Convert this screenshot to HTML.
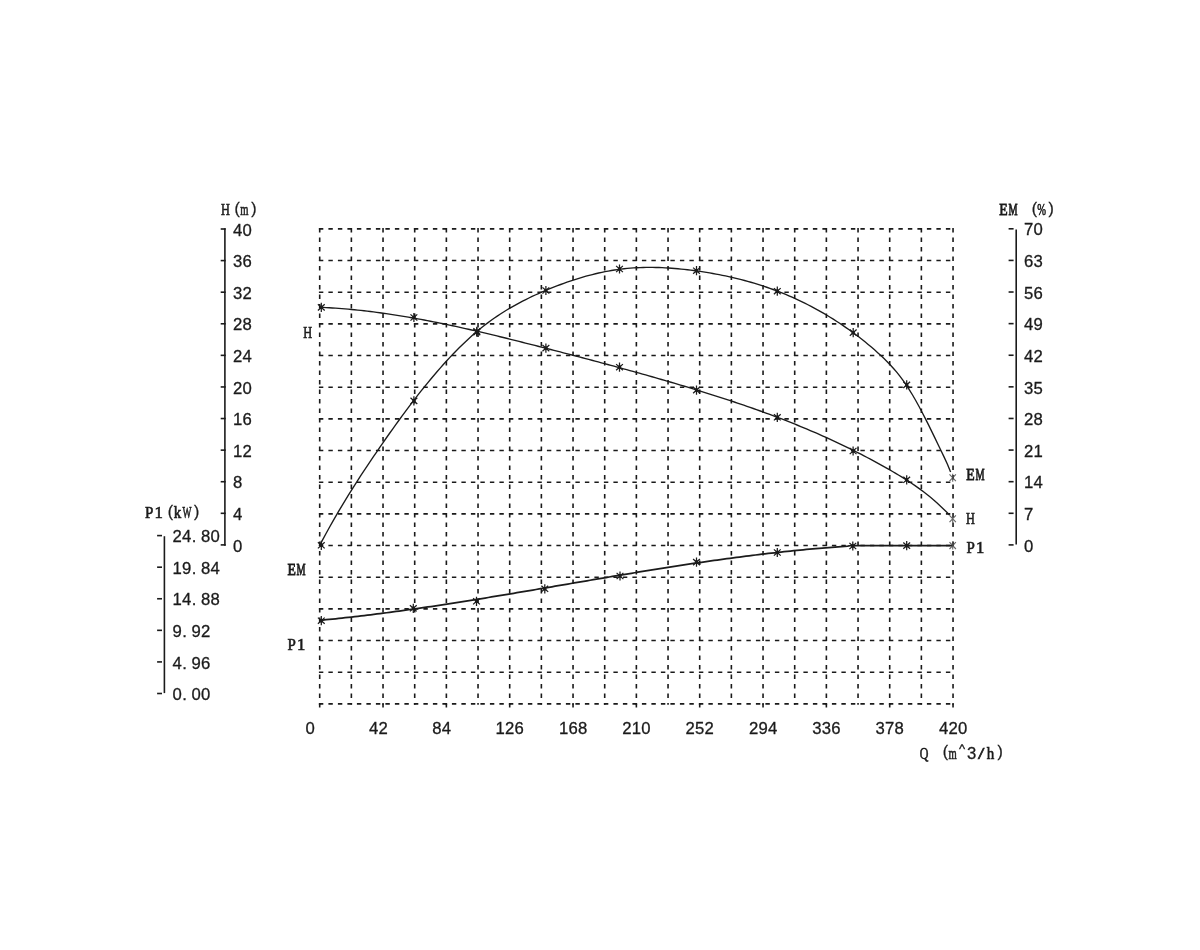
<!DOCTYPE html>
<html><head><meta charset="utf-8"><title>Pump curve</title>
<style>html,body{margin:0;padding:0;background:#fff;}svg{display:block;}text{fill:#1a1a1a;font-family:"Liberation Sans",sans-serif;}</style>
</head><body>
<svg width="1200" height="950" viewBox="0 0 1200 950">
<rect width="1200" height="950" fill="#fff"/>
<g stroke="#1a1a1a" stroke-width="1.6" stroke-dasharray="4.4 5.1" fill="none">
<line x1="319.7" y1="228.1" x2="319.7" y2="704.7"/>
<line x1="351.37" y1="228.1" x2="351.37" y2="704.7"/>
<line x1="383.03" y1="228.1" x2="383.03" y2="704.7"/>
<line x1="414.7" y1="228.1" x2="414.7" y2="704.7"/>
<line x1="446.37" y1="228.1" x2="446.37" y2="704.7"/>
<line x1="478.03" y1="228.1" x2="478.03" y2="704.7"/>
<line x1="509.7" y1="228.1" x2="509.7" y2="704.7"/>
<line x1="541.37" y1="228.1" x2="541.37" y2="704.7"/>
<line x1="573.04" y1="228.1" x2="573.04" y2="704.7"/>
<line x1="604.7" y1="228.1" x2="604.7" y2="704.7"/>
<line x1="636.37" y1="228.1" x2="636.37" y2="704.7"/>
<line x1="668.04" y1="228.1" x2="668.04" y2="704.7"/>
<line x1="699.7" y1="228.1" x2="699.7" y2="704.7"/>
<line x1="731.37" y1="228.1" x2="731.37" y2="704.7"/>
<line x1="763.04" y1="228.1" x2="763.04" y2="704.7"/>
<line x1="794.7" y1="228.1" x2="794.7" y2="704.7"/>
<line x1="826.37" y1="228.1" x2="826.37" y2="704.7"/>
<line x1="858.04" y1="228.1" x2="858.04" y2="704.7"/>
<line x1="889.71" y1="228.1" x2="889.71" y2="704.7"/>
<line x1="921.37" y1="228.1" x2="921.37" y2="704.7"/>
<line x1="953.04" y1="228.1" x2="953.04" y2="704.7"/>
<line x1="318.9" y1="228.9" x2="953.84" y2="228.9"/>
<line x1="318.9" y1="260.57" x2="953.84" y2="260.57"/>
<line x1="318.9" y1="292.23" x2="953.84" y2="292.23"/>
<line x1="318.9" y1="323.9" x2="953.84" y2="323.9"/>
<line x1="318.9" y1="355.57" x2="953.84" y2="355.57"/>
<line x1="318.9" y1="387.24" x2="953.84" y2="387.24"/>
<line x1="318.9" y1="418.9" x2="953.84" y2="418.9"/>
<line x1="318.9" y1="450.57" x2="953.84" y2="450.57"/>
<line x1="318.9" y1="482.24" x2="953.84" y2="482.24"/>
<line x1="318.9" y1="513.9" x2="953.84" y2="513.9"/>
<line x1="318.9" y1="545.57" x2="953.84" y2="545.57"/>
<line x1="318.9" y1="577.24" x2="953.84" y2="577.24"/>
<line x1="318.9" y1="608.9" x2="953.84" y2="608.9"/>
<line x1="318.9" y1="640.57" x2="953.84" y2="640.57"/>
<line x1="318.9" y1="672.24" x2="953.84" y2="672.24"/>
<line x1="318.9" y1="703.9" x2="953.84" y2="703.9"/>
</g>
<g stroke="#1a1a1a" stroke-width="1.6" fill="none">
<line x1="319.7" y1="703.9" x2="319.7" y2="707.5"/>
<line x1="383.03" y1="703.9" x2="383.03" y2="707.5"/>
<line x1="446.37" y1="703.9" x2="446.37" y2="707.5"/>
<line x1="509.7" y1="703.9" x2="509.7" y2="707.5"/>
<line x1="573.04" y1="703.9" x2="573.04" y2="707.5"/>
<line x1="636.37" y1="703.9" x2="636.37" y2="707.5"/>
<line x1="699.7" y1="703.9" x2="699.7" y2="707.5"/>
<line x1="763.04" y1="703.9" x2="763.04" y2="707.5"/>
<line x1="826.37" y1="703.9" x2="826.37" y2="707.5"/>
<line x1="889.71" y1="703.9" x2="889.71" y2="707.5"/>
<line x1="953.04" y1="703.9" x2="953.04" y2="707.5"/>
</g>
<g opacity="0.995">
<g stroke="#1a1a1a" stroke-width="1.6" fill="none">
<line x1="224.9" y1="228.2" x2="224.9" y2="545.7"/>
<line x1="220.7" y1="229" x2="225.7" y2="229"/>
<line x1="220.7" y1="260.59" x2="225.7" y2="260.59"/>
<line x1="220.7" y1="292.18" x2="225.7" y2="292.18"/>
<line x1="220.7" y1="323.77" x2="225.7" y2="323.77"/>
<line x1="220.7" y1="355.36" x2="225.7" y2="355.36"/>
<line x1="220.7" y1="386.95" x2="225.7" y2="386.95"/>
<line x1="220.7" y1="418.54" x2="225.7" y2="418.54"/>
<line x1="220.7" y1="450.13" x2="225.7" y2="450.13"/>
<line x1="220.7" y1="481.72" x2="225.7" y2="481.72"/>
<line x1="220.7" y1="513.31" x2="225.7" y2="513.31"/>
<line x1="220.7" y1="544.9" x2="225.7" y2="544.9"/>
</g>
<text x="237.75" y="235.68" text-anchor="middle" style="font-family:'Liberation Sans'" font-size="16.7" stroke="#1a1a1a" stroke-width="0.3">4</text>
<text x="247.25" y="235.68" text-anchor="middle" style="font-family:'Liberation Sans'" font-size="16.7" stroke="#1a1a1a" stroke-width="0.3">0</text>
<text x="237.75" y="267.27" text-anchor="middle" style="font-family:'Liberation Sans'" font-size="16.7" stroke="#1a1a1a" stroke-width="0.3">3</text>
<text x="247.25" y="267.27" text-anchor="middle" style="font-family:'Liberation Sans'" font-size="16.7" stroke="#1a1a1a" stroke-width="0.3">6</text>
<text x="237.75" y="298.86" text-anchor="middle" style="font-family:'Liberation Sans'" font-size="16.7" stroke="#1a1a1a" stroke-width="0.3">3</text>
<text x="247.25" y="298.86" text-anchor="middle" style="font-family:'Liberation Sans'" font-size="16.7" stroke="#1a1a1a" stroke-width="0.3">2</text>
<text x="237.75" y="330.45" text-anchor="middle" style="font-family:'Liberation Sans'" font-size="16.7" stroke="#1a1a1a" stroke-width="0.3">2</text>
<text x="247.25" y="330.45" text-anchor="middle" style="font-family:'Liberation Sans'" font-size="16.7" stroke="#1a1a1a" stroke-width="0.3">8</text>
<text x="237.75" y="362.04" text-anchor="middle" style="font-family:'Liberation Sans'" font-size="16.7" stroke="#1a1a1a" stroke-width="0.3">2</text>
<text x="247.25" y="362.04" text-anchor="middle" style="font-family:'Liberation Sans'" font-size="16.7" stroke="#1a1a1a" stroke-width="0.3">4</text>
<text x="237.75" y="393.63" text-anchor="middle" style="font-family:'Liberation Sans'" font-size="16.7" stroke="#1a1a1a" stroke-width="0.3">2</text>
<text x="247.25" y="393.63" text-anchor="middle" style="font-family:'Liberation Sans'" font-size="16.7" stroke="#1a1a1a" stroke-width="0.3">0</text>
<text x="237.75" y="425.22" text-anchor="middle" style="font-family:'Liberation Sans'" font-size="16.7" stroke="#1a1a1a" stroke-width="0.3">1</text>
<text x="247.25" y="425.22" text-anchor="middle" style="font-family:'Liberation Sans'" font-size="16.7" stroke="#1a1a1a" stroke-width="0.3">6</text>
<text x="237.75" y="456.81" text-anchor="middle" style="font-family:'Liberation Sans'" font-size="16.7" stroke="#1a1a1a" stroke-width="0.3">1</text>
<text x="247.25" y="456.81" text-anchor="middle" style="font-family:'Liberation Sans'" font-size="16.7" stroke="#1a1a1a" stroke-width="0.3">2</text>
<text x="237.75" y="488.4" text-anchor="middle" style="font-family:'Liberation Sans'" font-size="16.7" stroke="#1a1a1a" stroke-width="0.3">8</text>
<text x="237.75" y="519.99" text-anchor="middle" style="font-family:'Liberation Sans'" font-size="16.7" stroke="#1a1a1a" stroke-width="0.3">4</text>
<text x="237.75" y="551.58" text-anchor="middle" style="font-family:'Liberation Sans'" font-size="16.7" stroke="#1a1a1a" stroke-width="0.3">0</text>
<text transform="translate(225.35 215.33) scale(0.7 1)" text-anchor="middle" style="font-family:'Liberation Serif'" font-size="17.6" stroke="#1a1a1a" stroke-width="0.65">H</text>
<text x="237.15" y="213.56" text-anchor="middle" style="font-family:'Liberation Sans'" font-size="15.8" stroke="#1a1a1a" stroke-width="0.3">(</text>
<text transform="translate(244.35 215.33) scale(0.6 1)" text-anchor="middle" style="font-family:'Liberation Serif'" font-size="17.6" stroke="#1a1a1a" stroke-width="0.65">m</text>
<text x="253.85" y="213.56" text-anchor="middle" style="font-family:'Liberation Sans'" font-size="15.8" stroke="#1a1a1a" stroke-width="0.3">)</text>
<g stroke="#1a1a1a" stroke-width="1.6" fill="none">
<line x1="1016.2" y1="229.4" x2="1016.2" y2="544.5"/>
<line x1="1008.6" y1="228.8" x2="1013.6" y2="228.8"/>
<line x1="1008.6" y1="260.41" x2="1013.6" y2="260.41"/>
<line x1="1008.6" y1="292.02" x2="1013.6" y2="292.02"/>
<line x1="1008.6" y1="323.63" x2="1013.6" y2="323.63"/>
<line x1="1008.6" y1="355.24" x2="1013.6" y2="355.24"/>
<line x1="1008.6" y1="386.85" x2="1013.6" y2="386.85"/>
<line x1="1008.6" y1="418.46" x2="1013.6" y2="418.46"/>
<line x1="1008.6" y1="450.07" x2="1013.6" y2="450.07"/>
<line x1="1008.6" y1="481.68" x2="1013.6" y2="481.68"/>
<line x1="1008.6" y1="513.29" x2="1013.6" y2="513.29"/>
<line x1="1008.6" y1="544.9" x2="1013.6" y2="544.9"/>
</g>
<text x="1028.55" y="235.48" text-anchor="middle" style="font-family:'Liberation Sans'" font-size="16.7" stroke="#1a1a1a" stroke-width="0.3">7</text>
<text x="1038.05" y="235.48" text-anchor="middle" style="font-family:'Liberation Sans'" font-size="16.7" stroke="#1a1a1a" stroke-width="0.3">0</text>
<text x="1028.55" y="267.09" text-anchor="middle" style="font-family:'Liberation Sans'" font-size="16.7" stroke="#1a1a1a" stroke-width="0.3">6</text>
<text x="1038.05" y="267.09" text-anchor="middle" style="font-family:'Liberation Sans'" font-size="16.7" stroke="#1a1a1a" stroke-width="0.3">3</text>
<text x="1028.55" y="298.7" text-anchor="middle" style="font-family:'Liberation Sans'" font-size="16.7" stroke="#1a1a1a" stroke-width="0.3">5</text>
<text x="1038.05" y="298.7" text-anchor="middle" style="font-family:'Liberation Sans'" font-size="16.7" stroke="#1a1a1a" stroke-width="0.3">6</text>
<text x="1028.55" y="330.31" text-anchor="middle" style="font-family:'Liberation Sans'" font-size="16.7" stroke="#1a1a1a" stroke-width="0.3">4</text>
<text x="1038.05" y="330.31" text-anchor="middle" style="font-family:'Liberation Sans'" font-size="16.7" stroke="#1a1a1a" stroke-width="0.3">9</text>
<text x="1028.55" y="361.92" text-anchor="middle" style="font-family:'Liberation Sans'" font-size="16.7" stroke="#1a1a1a" stroke-width="0.3">4</text>
<text x="1038.05" y="361.92" text-anchor="middle" style="font-family:'Liberation Sans'" font-size="16.7" stroke="#1a1a1a" stroke-width="0.3">2</text>
<text x="1028.55" y="393.53" text-anchor="middle" style="font-family:'Liberation Sans'" font-size="16.7" stroke="#1a1a1a" stroke-width="0.3">3</text>
<text x="1038.05" y="393.53" text-anchor="middle" style="font-family:'Liberation Sans'" font-size="16.7" stroke="#1a1a1a" stroke-width="0.3">5</text>
<text x="1028.55" y="425.14" text-anchor="middle" style="font-family:'Liberation Sans'" font-size="16.7" stroke="#1a1a1a" stroke-width="0.3">2</text>
<text x="1038.05" y="425.14" text-anchor="middle" style="font-family:'Liberation Sans'" font-size="16.7" stroke="#1a1a1a" stroke-width="0.3">8</text>
<text x="1028.55" y="456.75" text-anchor="middle" style="font-family:'Liberation Sans'" font-size="16.7" stroke="#1a1a1a" stroke-width="0.3">2</text>
<text x="1038.05" y="456.75" text-anchor="middle" style="font-family:'Liberation Sans'" font-size="16.7" stroke="#1a1a1a" stroke-width="0.3">1</text>
<text x="1028.55" y="488.36" text-anchor="middle" style="font-family:'Liberation Sans'" font-size="16.7" stroke="#1a1a1a" stroke-width="0.3">1</text>
<text x="1038.05" y="488.36" text-anchor="middle" style="font-family:'Liberation Sans'" font-size="16.7" stroke="#1a1a1a" stroke-width="0.3">4</text>
<text x="1028.55" y="519.97" text-anchor="middle" style="font-family:'Liberation Sans'" font-size="16.7" stroke="#1a1a1a" stroke-width="0.3">7</text>
<text x="1028.55" y="551.58" text-anchor="middle" style="font-family:'Liberation Sans'" font-size="16.7" stroke="#1a1a1a" stroke-width="0.3">0</text>
<text transform="translate(1003.55 215.33) scale(0.78 1)" text-anchor="middle" style="font-family:'Liberation Serif'" font-size="17.6" stroke="#1a1a1a" stroke-width="0.9">E</text>
<text transform="translate(1013.05 215.33) scale(0.58 1)" text-anchor="middle" style="font-family:'Liberation Serif'" font-size="17.6" stroke="#1a1a1a" stroke-width="0.9">M</text>
<text x="1034.35" y="213.56" text-anchor="middle" style="font-family:'Liberation Sans'" font-size="15.8" stroke="#1a1a1a" stroke-width="0.3">(</text>
<text transform="translate(1041.55 215.13) scale(0.62 1)" text-anchor="middle" style="font-family:'Liberation Serif'" font-size="17" stroke="#1a1a1a" stroke-width="0.65">%</text>
<text x="1051.05" y="213.56" text-anchor="middle" style="font-family:'Liberation Sans'" font-size="15.8" stroke="#1a1a1a" stroke-width="0.3">)</text>
<g stroke="#1a1a1a" stroke-width="1.6" fill="none">
<line x1="164.4" y1="536.2" x2="164.4" y2="693.1"/>
<line x1="157.1" y1="535.6" x2="162" y2="535.6"/>
<line x1="157.1" y1="567.18" x2="162" y2="567.18"/>
<line x1="157.1" y1="598.76" x2="162" y2="598.76"/>
<line x1="157.1" y1="630.34" x2="162" y2="630.34"/>
<line x1="157.1" y1="661.92" x2="162" y2="661.92"/>
<line x1="157.1" y1="693.5" x2="162" y2="693.5"/>
</g>
<text x="177.15" y="542.28" text-anchor="middle" style="font-family:'Liberation Sans'" font-size="16.7" stroke="#1a1a1a" stroke-width="0.3">2</text>
<text x="186.65" y="542.28" text-anchor="middle" style="font-family:'Liberation Sans'" font-size="16.7" stroke="#1a1a1a" stroke-width="0.3">4</text>
<text x="193.95" y="542.28" text-anchor="middle" style="font-family:'Liberation Sans'" font-size="16.7" stroke="#1a1a1a" stroke-width="0.3">.</text>
<text x="205.65" y="542.28" text-anchor="middle" style="font-family:'Liberation Sans'" font-size="16.7" stroke="#1a1a1a" stroke-width="0.3">8</text>
<text x="215.15" y="542.28" text-anchor="middle" style="font-family:'Liberation Sans'" font-size="16.7" stroke="#1a1a1a" stroke-width="0.3">0</text>
<text x="177.15" y="573.86" text-anchor="middle" style="font-family:'Liberation Sans'" font-size="16.7" stroke="#1a1a1a" stroke-width="0.3">1</text>
<text x="186.65" y="573.86" text-anchor="middle" style="font-family:'Liberation Sans'" font-size="16.7" stroke="#1a1a1a" stroke-width="0.3">9</text>
<text x="193.95" y="573.86" text-anchor="middle" style="font-family:'Liberation Sans'" font-size="16.7" stroke="#1a1a1a" stroke-width="0.3">.</text>
<text x="205.65" y="573.86" text-anchor="middle" style="font-family:'Liberation Sans'" font-size="16.7" stroke="#1a1a1a" stroke-width="0.3">8</text>
<text x="215.15" y="573.86" text-anchor="middle" style="font-family:'Liberation Sans'" font-size="16.7" stroke="#1a1a1a" stroke-width="0.3">4</text>
<text x="177.15" y="605.44" text-anchor="middle" style="font-family:'Liberation Sans'" font-size="16.7" stroke="#1a1a1a" stroke-width="0.3">1</text>
<text x="186.65" y="605.44" text-anchor="middle" style="font-family:'Liberation Sans'" font-size="16.7" stroke="#1a1a1a" stroke-width="0.3">4</text>
<text x="193.95" y="605.44" text-anchor="middle" style="font-family:'Liberation Sans'" font-size="16.7" stroke="#1a1a1a" stroke-width="0.3">.</text>
<text x="205.65" y="605.44" text-anchor="middle" style="font-family:'Liberation Sans'" font-size="16.7" stroke="#1a1a1a" stroke-width="0.3">8</text>
<text x="215.15" y="605.44" text-anchor="middle" style="font-family:'Liberation Sans'" font-size="16.7" stroke="#1a1a1a" stroke-width="0.3">8</text>
<text x="177.15" y="637.02" text-anchor="middle" style="font-family:'Liberation Sans'" font-size="16.7" stroke="#1a1a1a" stroke-width="0.3">9</text>
<text x="184.45" y="637.02" text-anchor="middle" style="font-family:'Liberation Sans'" font-size="16.7" stroke="#1a1a1a" stroke-width="0.3">.</text>
<text x="196.15" y="637.02" text-anchor="middle" style="font-family:'Liberation Sans'" font-size="16.7" stroke="#1a1a1a" stroke-width="0.3">9</text>
<text x="205.65" y="637.02" text-anchor="middle" style="font-family:'Liberation Sans'" font-size="16.7" stroke="#1a1a1a" stroke-width="0.3">2</text>
<text x="177.15" y="668.6" text-anchor="middle" style="font-family:'Liberation Sans'" font-size="16.7" stroke="#1a1a1a" stroke-width="0.3">4</text>
<text x="184.45" y="668.6" text-anchor="middle" style="font-family:'Liberation Sans'" font-size="16.7" stroke="#1a1a1a" stroke-width="0.3">.</text>
<text x="196.15" y="668.6" text-anchor="middle" style="font-family:'Liberation Sans'" font-size="16.7" stroke="#1a1a1a" stroke-width="0.3">9</text>
<text x="205.65" y="668.6" text-anchor="middle" style="font-family:'Liberation Sans'" font-size="16.7" stroke="#1a1a1a" stroke-width="0.3">6</text>
<text x="177.15" y="700.18" text-anchor="middle" style="font-family:'Liberation Sans'" font-size="16.7" stroke="#1a1a1a" stroke-width="0.3">0</text>
<text x="184.45" y="700.18" text-anchor="middle" style="font-family:'Liberation Sans'" font-size="16.7" stroke="#1a1a1a" stroke-width="0.3">.</text>
<text x="196.15" y="700.18" text-anchor="middle" style="font-family:'Liberation Sans'" font-size="16.7" stroke="#1a1a1a" stroke-width="0.3">0</text>
<text x="205.65" y="700.18" text-anchor="middle" style="font-family:'Liberation Sans'" font-size="16.7" stroke="#1a1a1a" stroke-width="0.3">0</text>
<text transform="translate(149.05 518.33) scale(0.85 1)" text-anchor="middle" style="font-family:'Liberation Serif'" font-size="17.6" stroke="#1a1a1a" stroke-width="0.65">P</text>
<text transform="translate(158.55 518.33) scale(0.95 1)" text-anchor="middle" style="font-family:'Liberation Serif'" font-size="17.6" stroke="#1a1a1a" stroke-width="0.65">1</text>
<text x="170.35" y="516.56" text-anchor="middle" style="font-family:'Liberation Sans'" font-size="15.8" stroke="#1a1a1a" stroke-width="0.3">(</text>
<text transform="translate(177.55 518.33) scale(0.85 1)" text-anchor="middle" style="font-family:'Liberation Serif'" font-size="17.6" stroke="#1a1a1a" stroke-width="0.65">k</text>
<text transform="translate(187.05 518.33) scale(0.54 1)" text-anchor="middle" style="font-family:'Liberation Serif'" font-size="17.6" stroke="#1a1a1a" stroke-width="0.65">W</text>
<text x="196.55" y="516.56" text-anchor="middle" style="font-family:'Liberation Sans'" font-size="15.8" stroke="#1a1a1a" stroke-width="0.3">)</text>
<text x="310.25" y="734.38" text-anchor="middle" style="font-family:'Liberation Sans'" font-size="16.7" stroke="#1a1a1a" stroke-width="0.3">0</text>
<text x="373.58" y="734.38" text-anchor="middle" style="font-family:'Liberation Sans'" font-size="16.7" stroke="#1a1a1a" stroke-width="0.3">4</text>
<text x="383.08" y="734.38" text-anchor="middle" style="font-family:'Liberation Sans'" font-size="16.7" stroke="#1a1a1a" stroke-width="0.3">2</text>
<text x="436.92" y="734.38" text-anchor="middle" style="font-family:'Liberation Sans'" font-size="16.7" stroke="#1a1a1a" stroke-width="0.3">8</text>
<text x="446.42" y="734.38" text-anchor="middle" style="font-family:'Liberation Sans'" font-size="16.7" stroke="#1a1a1a" stroke-width="0.3">4</text>
<text x="500.25" y="734.38" text-anchor="middle" style="font-family:'Liberation Sans'" font-size="16.7" stroke="#1a1a1a" stroke-width="0.3">1</text>
<text x="509.75" y="734.38" text-anchor="middle" style="font-family:'Liberation Sans'" font-size="16.7" stroke="#1a1a1a" stroke-width="0.3">2</text>
<text x="519.25" y="734.38" text-anchor="middle" style="font-family:'Liberation Sans'" font-size="16.7" stroke="#1a1a1a" stroke-width="0.3">6</text>
<text x="563.59" y="734.38" text-anchor="middle" style="font-family:'Liberation Sans'" font-size="16.7" stroke="#1a1a1a" stroke-width="0.3">1</text>
<text x="573.09" y="734.38" text-anchor="middle" style="font-family:'Liberation Sans'" font-size="16.7" stroke="#1a1a1a" stroke-width="0.3">6</text>
<text x="582.59" y="734.38" text-anchor="middle" style="font-family:'Liberation Sans'" font-size="16.7" stroke="#1a1a1a" stroke-width="0.3">8</text>
<text x="626.92" y="734.38" text-anchor="middle" style="font-family:'Liberation Sans'" font-size="16.7" stroke="#1a1a1a" stroke-width="0.3">2</text>
<text x="636.42" y="734.38" text-anchor="middle" style="font-family:'Liberation Sans'" font-size="16.7" stroke="#1a1a1a" stroke-width="0.3">1</text>
<text x="645.92" y="734.38" text-anchor="middle" style="font-family:'Liberation Sans'" font-size="16.7" stroke="#1a1a1a" stroke-width="0.3">0</text>
<text x="690.25" y="734.38" text-anchor="middle" style="font-family:'Liberation Sans'" font-size="16.7" stroke="#1a1a1a" stroke-width="0.3">2</text>
<text x="699.75" y="734.38" text-anchor="middle" style="font-family:'Liberation Sans'" font-size="16.7" stroke="#1a1a1a" stroke-width="0.3">5</text>
<text x="709.25" y="734.38" text-anchor="middle" style="font-family:'Liberation Sans'" font-size="16.7" stroke="#1a1a1a" stroke-width="0.3">2</text>
<text x="753.59" y="734.38" text-anchor="middle" style="font-family:'Liberation Sans'" font-size="16.7" stroke="#1a1a1a" stroke-width="0.3">2</text>
<text x="763.09" y="734.38" text-anchor="middle" style="font-family:'Liberation Sans'" font-size="16.7" stroke="#1a1a1a" stroke-width="0.3">9</text>
<text x="772.59" y="734.38" text-anchor="middle" style="font-family:'Liberation Sans'" font-size="16.7" stroke="#1a1a1a" stroke-width="0.3">4</text>
<text x="816.92" y="734.38" text-anchor="middle" style="font-family:'Liberation Sans'" font-size="16.7" stroke="#1a1a1a" stroke-width="0.3">3</text>
<text x="826.42" y="734.38" text-anchor="middle" style="font-family:'Liberation Sans'" font-size="16.7" stroke="#1a1a1a" stroke-width="0.3">3</text>
<text x="835.92" y="734.38" text-anchor="middle" style="font-family:'Liberation Sans'" font-size="16.7" stroke="#1a1a1a" stroke-width="0.3">6</text>
<text x="880.26" y="734.38" text-anchor="middle" style="font-family:'Liberation Sans'" font-size="16.7" stroke="#1a1a1a" stroke-width="0.3">3</text>
<text x="889.76" y="734.38" text-anchor="middle" style="font-family:'Liberation Sans'" font-size="16.7" stroke="#1a1a1a" stroke-width="0.3">7</text>
<text x="899.26" y="734.38" text-anchor="middle" style="font-family:'Liberation Sans'" font-size="16.7" stroke="#1a1a1a" stroke-width="0.3">8</text>
<text x="943.59" y="734.38" text-anchor="middle" style="font-family:'Liberation Sans'" font-size="16.7" stroke="#1a1a1a" stroke-width="0.3">4</text>
<text x="953.09" y="734.38" text-anchor="middle" style="font-family:'Liberation Sans'" font-size="16.7" stroke="#1a1a1a" stroke-width="0.3">2</text>
<text x="962.59" y="734.38" text-anchor="middle" style="font-family:'Liberation Sans'" font-size="16.7" stroke="#1a1a1a" stroke-width="0.3">0</text>
<text transform="translate(924.05 758.63) scale(0.68 1)" text-anchor="middle" style="font-family:'Liberation Serif'" font-size="17.6" stroke="#1a1a1a" stroke-width="0.65">Q</text>
<text x="945.35" y="756.86" text-anchor="middle" style="font-family:'Liberation Sans'" font-size="15.8" stroke="#1a1a1a" stroke-width="0.3">(</text>
<text transform="translate(952.55 758.63) scale(0.6 1)" text-anchor="middle" style="font-family:'Liberation Serif'" font-size="17.6" stroke="#1a1a1a" stroke-width="0.65">m</text>
<text x="962.05" y="752.85" text-anchor="middle" style="font-family:'Liberation Sans'" font-size="13" stroke="#1a1a1a" stroke-width="0.3">^</text>
<text x="971.55" y="758.78" text-anchor="middle" style="font-family:'Liberation Sans'" font-size="16.7" stroke="#1a1a1a" stroke-width="0.3">3</text>
<text transform="translate(981.05 758.63) scale(1.3 1)" text-anchor="middle" style="font-family:'Liberation Serif'" font-size="17.6" stroke="#1a1a1a" stroke-width="0.65">/</text>
<text transform="translate(990.55 758.63) scale(0.85 1)" text-anchor="middle" style="font-family:'Liberation Serif'" font-size="17.6" stroke="#1a1a1a" stroke-width="0.65">h</text>
<text x="1000.05" y="756.86" text-anchor="middle" style="font-family:'Liberation Sans'" font-size="15.8" stroke="#1a1a1a" stroke-width="0.3">)</text>
<path d="M319.7 307.3 L322.86 307.44 L326.03 307.6 L329.19 307.77 L332.36 307.97 L335.52 308.18 L338.69 308.4 L341.85 308.65 L345.02 308.9 L348.18 309.18 L351.35 309.47 L354.51 309.78 L357.68 310.1 L360.84 310.44 L364.01 310.79 L367.17 311.16 L370.34 311.54 L373.5 311.94 L376.67 312.35 L379.83 312.77 L383 313.21 L386.16 313.66 L389.33 314.12 L392.49 314.6 L395.66 315.09 L398.82 315.59 L401.99 316.1 L405.15 316.63 L408.32 317.17 L411.48 317.71 L414.64 318.27 L417.81 318.84 L420.97 319.42 L424.14 320.02 L427.3 320.62 L430.47 321.23 L433.63 321.85 L436.8 322.48 L439.96 323.12 L443.13 323.77 L446.29 324.43 L449.46 325.09 L452.62 325.77 L455.79 326.45 L458.95 327.14 L462.12 327.84 L465.28 328.55 L468.45 329.26 L471.61 329.98 L474.78 330.7 L477.94 331.44 L481.11 332.18 L484.27 332.92 L487.44 333.67 L490.6 334.43 L493.77 335.19 L496.93 335.95 L500.09 336.72 L503.26 337.5 L506.42 338.28 L509.59 339.06 L512.75 339.85 L515.92 340.64 L519.08 341.44 L522.25 342.23 L525.41 343.03 L528.58 343.84 L531.74 344.64 L534.91 345.45 L538.07 346.26 L541.24 347.07 L544.4 347.88 L547.57 348.7 L550.73 349.51 L553.9 350.33 L557.06 351.15 L560.23 351.97 L563.39 352.79 L566.56 353.61 L569.72 354.43 L572.89 355.26 L576.05 356.08 L579.22 356.91 L582.38 357.75 L585.55 358.58 L588.71 359.42 L591.87 360.25 L595.04 361.09 L598.2 361.94 L601.37 362.78 L604.53 363.63 L607.7 364.48 L610.86 365.34 L614.03 366.2 L617.19 367.06 L620.36 367.92 L623.52 368.79 L626.69 369.66 L629.85 370.53 L633.02 371.41 L636.18 372.29 L639.35 373.18 L642.51 374.06 L645.68 374.96 L648.84 375.85 L652.01 376.76 L655.17 377.66 L658.34 378.57 L661.5 379.48 L664.67 380.4 L667.83 381.33 L671 382.25 L674.16 383.19 L677.33 384.12 L680.49 385.07 L683.65 386.01 L686.82 386.97 L689.98 387.92 L693.15 388.89 L696.31 389.85 L699.48 390.83 L702.64 391.81 L705.81 392.8 L708.97 393.79 L712.14 394.79 L715.3 395.79 L718.47 396.81 L721.63 397.83 L724.8 398.85 L727.96 399.89 L731.13 400.93 L734.29 401.99 L737.46 403.05 L740.62 404.12 L743.79 405.2 L746.95 406.29 L750.12 407.39 L753.28 408.5 L756.45 409.62 L759.61 410.75 L762.78 411.89 L765.94 413.04 L769.11 414.21 L772.27 415.38 L775.43 416.57 L778.6 417.77 L781.76 418.99 L784.93 420.21 L788.09 421.45 L791.26 422.7 L794.42 423.97 L797.59 425.25 L800.75 426.54 L803.92 427.85 L807.08 429.18 L810.25 430.52 L813.41 431.87 L816.58 433.24 L819.74 434.62 L822.91 436.03 L826.07 437.44 L829.24 438.88 L832.4 440.33 L835.57 441.8 L838.73 443.28 L841.9 444.79 L845.06 446.31 L848.23 447.85 L851.39 449.41 L854.56 450.99 L857.72 452.58 L860.88 454.2 L864.05 455.83 L867.21 457.49 L870.38 459.16 L873.54 460.86 L876.71 462.58 L879.87 464.32 L883.04 466.07 L886.2 467.86 L889.37 469.66 L892.53 471.48 L895.7 473.34 L898.86 475.23 L902.03 477.15 L905.19 479.13 L908.36 481.16 L911.52 483.24 L914.69 485.39 L917.85 487.61 L921.02 489.91 L924.18 492.3 L927.35 494.77 L930.51 497.33 L933.68 500 L936.84 502.78 L940.01 505.67 L943.17 508.68 L946.34 511.81 L949.5 515.08" stroke="#1a1a1a" stroke-width="1.35" fill="none" stroke-linejoin="round"/>
<path d="M319.7 545.32 L322.87 539.35 L326.04 533.51 L329.21 527.77 L332.38 522.14 L335.55 516.61 L338.72 511.18 L341.89 505.84 L345.06 500.58 L348.23 495.41 L351.4 490.32 L354.57 485.29 L357.74 480.34 L360.91 475.45 L364.08 470.61 L367.26 465.83 L370.43 461.1 L373.6 456.41 L376.77 451.76 L379.94 447.14 L383.11 442.56 L386.28 438.01 L389.45 433.51 L392.62 429.04 L395.79 424.61 L398.96 420.23 L402.13 415.89 L405.3 411.6 L408.47 407.36 L411.64 403.18 L414.81 399.04 L417.98 394.96 L421.15 390.94 L424.32 386.97 L427.49 383.07 L430.66 379.23 L433.83 375.45 L437 371.74 L440.17 368.1 L443.34 364.53 L446.51 361.03 L449.68 357.6 L452.85 354.25 L456.03 350.98 L459.2 347.78 L462.37 344.67 L465.54 341.64 L468.71 338.7 L471.88 335.84 L475.05 333.08 L478.22 330.4 L481.39 327.81 L484.56 325.31 L487.73 322.9 L490.9 320.57 L494.07 318.32 L497.24 316.14 L500.41 314.04 L503.58 312.01 L506.75 310.05 L509.92 308.16 L513.09 306.32 L516.26 304.55 L519.43 302.83 L522.6 301.17 L525.77 299.56 L528.94 298 L532.11 296.48 L535.28 295.01 L538.45 293.58 L541.62 292.18 L544.79 290.82 L547.97 289.49 L551.14 288.2 L554.31 286.93 L557.48 285.7 L560.65 284.5 L563.82 283.34 L566.99 282.21 L570.16 281.12 L573.33 280.07 L576.5 279.05 L579.67 278.07 L582.84 277.13 L586.01 276.22 L589.18 275.36 L592.35 274.54 L595.52 273.76 L598.69 273.03 L601.86 272.34 L605.03 271.69 L608.2 271.08 L611.37 270.53 L614.54 270.01 L617.71 269.55 L620.88 269.13 L624.05 268.76 L627.22 268.44 L630.39 268.16 L633.56 267.93 L636.74 267.74 L639.91 267.6 L643.08 267.49 L646.25 267.42 L649.42 267.4 L652.59 267.41 L655.76 267.46 L658.93 267.54 L662.1 267.66 L665.27 267.82 L668.44 268 L671.61 268.22 L674.78 268.47 L677.95 268.75 L681.12 269.05 L684.29 269.39 L687.46 269.75 L690.63 270.13 L693.8 270.54 L696.97 270.97 L700.14 271.43 L703.31 271.91 L706.48 272.41 L709.65 272.93 L712.82 273.48 L715.99 274.06 L719.16 274.66 L722.33 275.29 L725.51 275.94 L728.68 276.63 L731.85 277.34 L735.02 278.08 L738.19 278.85 L741.36 279.66 L744.53 280.49 L747.7 281.36 L750.87 282.25 L754.04 283.19 L757.21 284.15 L760.38 285.15 L763.55 286.19 L766.72 287.26 L769.89 288.37 L773.06 289.51 L776.23 290.69 L779.4 291.91 L782.57 293.17 L785.74 294.47 L788.91 295.81 L792.08 297.2 L795.25 298.62 L798.42 300.08 L801.59 301.59 L804.76 303.14 L807.93 304.74 L811.1 306.38 L814.27 308.07 L817.45 309.8 L820.62 311.58 L823.79 313.41 L826.96 315.28 L830.13 317.21 L833.3 319.18 L836.47 321.2 L839.64 323.28 L842.81 325.41 L845.98 327.58 L849.15 329.81 L852.32 332.1 L855.49 334.44 L858.66 336.83 L861.83 339.29 L865 341.81 L868.17 344.4 L871.34 347.07 L874.51 349.81 L877.68 352.64 L880.85 355.55 L884.02 358.56 L887.19 361.69 L890.36 364.99 L893.53 368.47 L896.7 372.17 L899.87 376.12 L903.04 380.36 L906.22 384.9 L909.39 389.79 L912.56 395 L915.73 400.49 L918.9 406.24 L922.07 412.21 L925.24 418.36 L928.41 424.67 L931.58 431.1 L934.75 437.61 L937.92 444.18 L941.09 450.76 L944.26 457.39 L947.43 464.34 L950.6 471.98" stroke="#1a1a1a" stroke-width="1.35" fill="none" stroke-linejoin="round"/>
<path d="M319.7 620.34 L322.88 620.03 L326.06 619.72 L329.24 619.41 L332.42 619.09 L335.6 618.76 L338.79 618.43 L341.97 618.09 L345.15 617.74 L348.33 617.39 L351.51 617.03 L354.69 616.67 L357.87 616.3 L361.05 615.93 L364.23 615.55 L367.41 615.16 L370.59 614.78 L373.78 614.38 L376.96 613.98 L380.14 613.58 L383.32 613.17 L386.5 612.75 L389.68 612.34 L392.86 611.91 L396.04 611.48 L399.22 611.05 L402.4 610.62 L405.58 610.18 L408.77 609.73 L411.95 609.28 L415.13 608.83 L418.31 608.37 L421.49 607.91 L424.67 607.45 L427.85 606.98 L431.03 606.51 L434.21 606.03 L437.39 605.55 L440.57 605.07 L443.76 604.59 L446.94 604.1 L450.12 603.61 L453.3 603.11 L456.48 602.62 L459.66 602.12 L462.84 601.61 L466.02 601.11 L469.2 600.6 L472.38 600.09 L475.56 599.58 L478.75 599.06 L481.93 598.54 L485.11 598.03 L488.29 597.5 L491.47 596.98 L494.65 596.45 L497.83 595.93 L501.01 595.4 L504.19 594.87 L507.37 594.34 L510.55 593.8 L513.74 593.27 L516.92 592.73 L520.1 592.19 L523.28 591.66 L526.46 591.12 L529.64 590.58 L532.82 590.03 L536 589.49 L539.18 588.95 L542.36 588.41 L545.54 587.86 L548.73 587.32 L551.91 586.77 L555.09 586.23 L558.27 585.68 L561.45 585.14 L564.63 584.59 L567.81 584.04 L570.99 583.5 L574.17 582.95 L577.35 582.41 L580.53 581.87 L583.72 581.32 L586.9 580.78 L590.08 580.24 L593.26 579.69 L596.44 579.15 L599.62 578.61 L602.8 578.07 L605.98 577.53 L609.16 577 L612.34 576.46 L615.52 575.93 L618.71 575.39 L621.89 574.86 L625.07 574.33 L628.25 573.8 L631.43 573.28 L634.61 572.75 L637.79 572.23 L640.97 571.71 L644.15 571.19 L647.33 570.67 L650.51 570.16 L653.69 569.65 L656.88 569.14 L660.06 568.63 L663.24 568.13 L666.42 567.62 L669.6 567.13 L672.78 566.63 L675.96 566.14 L679.14 565.65 L682.32 565.16 L685.5 564.67 L688.68 564.19 L691.87 563.72 L695.05 563.24 L698.23 562.77 L701.41 562.31 L704.59 561.84 L707.77 561.38 L710.95 560.93 L714.13 560.48 L717.31 560.03 L720.49 559.58 L723.67 559.15 L726.86 558.71 L730.04 558.28 L733.22 557.85 L736.4 557.43 L739.58 557.01 L742.76 556.6 L745.94 556.19 L749.12 555.79 L752.3 555.39 L755.48 555 L758.66 554.61 L761.85 554.23 L765.03 553.85 L768.21 553.48 L771.39 553.12 L774.57 552.76 L777.75 552.4 L780.93 552.05 L784.11 551.71 L787.29 551.37 L790.47 551.04 L793.65 550.71 L796.84 550.39 L800.02 550.08 L803.2 549.77 L806.38 549.47 L809.56 549.18 L812.74 548.89 L815.92 548.61 L819.1 548.34 L822.28 548.07 L825.46 547.81 L828.64 547.55 L831.83 547.31 L835.01 547.07 L838.19 546.84 L841.37 546.61 L844.55 546.39 L847.73 546.18 L850.91 545.5 L854.09 545.5 L857.27 545.5 L860.45 545.5 L863.63 545.5 L866.82 545.5 L870 545.5 L873.18 545.5 L876.36 545.5 L879.54 545.5 L882.72 545.5 L885.9 545.5 L889.08 545.5 L892.26 545.5 L895.44 545.5 L898.62 545.5 L901.81 545.5 L904.99 545.5 L908.17 545.5 L911.35 545.5 L914.53 545.5 L917.71 545.5 L920.89 545.5 L924.07 545.5 L927.25 545.5 L930.43 545.5 L933.61 545.5 L936.8 545.5 L939.98 545.5 L943.16 545.5 L946.34 545.5 L949.52 545.5 L952.7 545.5" stroke="#1a1a1a" stroke-width="1.75" fill="none" stroke-linejoin="round"/>
<g transform="translate(321.3 307.4)" stroke="#1a1a1a" stroke-width="1.25" fill="#1a1a1a">
<path d="M0 -4.6V4.6M-3.4 -3.1L3.4 3.1M-3.4 3.1L3.4 -3.1"/>
<rect x="-1.6" y="-1.6" width="3.2" height="3.2" stroke="none"/>
</g>
<g transform="translate(413.9 317.5)" stroke="#1a1a1a" stroke-width="1.25" fill="#1a1a1a">
<path d="M0 -4.6V4.6M-3.4 -3.1L3.4 3.1M-3.4 3.1L3.4 -3.1"/>
<rect x="-1.6" y="-1.6" width="3.2" height="3.2" stroke="none"/>
</g>
<g transform="translate(476.8 332.1)" stroke="#1a1a1a" stroke-width="1.25" fill="#1a1a1a">
<path d="M0 -4.6V4.6M-3.4 -3.1L3.4 3.1M-3.4 3.1L3.4 -3.1"/>
<rect x="-1.6" y="-1.6" width="3.2" height="3.2" stroke="none"/>
</g>
<g transform="translate(545.9 348.1)" stroke="#1a1a1a" stroke-width="1.25" fill="#1a1a1a">
<path d="M0 -4.6V4.6M-3.4 -3.1L3.4 3.1M-3.4 3.1L3.4 -3.1"/>
<rect x="-1.6" y="-1.6" width="3.2" height="3.2" stroke="none"/>
</g>
<g transform="translate(619.5 367.2)" stroke="#1a1a1a" stroke-width="1.25" fill="#1a1a1a">
<path d="M0 -4.6V4.6M-3.4 -3.1L3.4 3.1M-3.4 3.1L3.4 -3.1"/>
<rect x="-1.6" y="-1.6" width="3.2" height="3.2" stroke="none"/>
</g>
<g transform="translate(696.5 390.1)" stroke="#1a1a1a" stroke-width="1.25" fill="#1a1a1a">
<path d="M0 -4.6V4.6M-3.4 -3.1L3.4 3.1M-3.4 3.1L3.4 -3.1"/>
<rect x="-1.6" y="-1.6" width="3.2" height="3.2" stroke="none"/>
</g>
<g transform="translate(777.3 417.3)" stroke="#1a1a1a" stroke-width="1.25" fill="#1a1a1a">
<path d="M0 -4.6V4.6M-3.4 -3.1L3.4 3.1M-3.4 3.1L3.4 -3.1"/>
<rect x="-1.6" y="-1.6" width="3.2" height="3.2" stroke="none"/>
</g>
<g transform="translate(853.1 451)" stroke="#1a1a1a" stroke-width="1.25" fill="#1a1a1a">
<path d="M0 -4.6V4.6M-3.4 -3.1L3.4 3.1M-3.4 3.1L3.4 -3.1"/>
<rect x="-1.6" y="-1.6" width="3.2" height="3.2" stroke="none"/>
</g>
<g transform="translate(906.7 479.8)" stroke="#1a1a1a" stroke-width="1.25" fill="#1a1a1a">
<path d="M0 -4.6V4.6M-3.4 -3.1L3.4 3.1M-3.4 3.1L3.4 -3.1"/>
<rect x="-1.6" y="-1.6" width="3.2" height="3.2" stroke="none"/>
</g>
<g transform="translate(952.7 518.8)" stroke="#4a4a4a" stroke-width="1.1" fill="none">
<path d="M-3.2 -3.4L3.2 3.4M-3.2 3.4L3.2 -3.4M0 -4V4"  stroke-opacity="0.85"/>
</g>
<g transform="translate(321.3 545.3)" stroke="#1a1a1a" stroke-width="1.25" fill="#1a1a1a">
<path d="M0 -4.6V4.6M-3.4 -3.1L3.4 3.1M-3.4 3.1L3.4 -3.1"/>
<rect x="-1.6" y="-1.6" width="3.2" height="3.2" stroke="none"/>
</g>
<g transform="translate(413.9 400.9)" stroke="#1a1a1a" stroke-width="1.25" fill="#1a1a1a">
<path d="M0 -4.6V4.6M-3.4 -3.1L3.4 3.1M-3.4 3.1L3.4 -3.1"/>
<rect x="-1.6" y="-1.6" width="3.2" height="3.2" stroke="none"/>
</g>
<g transform="translate(476.8 331.3)" stroke="#1a1a1a" stroke-width="1.25" fill="#1a1a1a">
<path d="M0 -4.6V4.6M-3.4 -3.1L3.4 3.1M-3.4 3.1L3.4 -3.1"/>
<rect x="-1.6" y="-1.6" width="3.2" height="3.2" stroke="none"/>
</g>
<g transform="translate(545.9 290.5)" stroke="#1a1a1a" stroke-width="1.25" fill="#1a1a1a">
<path d="M0 -4.6V4.6M-3.4 -3.1L3.4 3.1M-3.4 3.1L3.4 -3.1"/>
<rect x="-1.6" y="-1.6" width="3.2" height="3.2" stroke="none"/>
</g>
<g transform="translate(619.5 269)" stroke="#1a1a1a" stroke-width="1.25" fill="#1a1a1a">
<path d="M0 -4.6V4.6M-3.4 -3.1L3.4 3.1M-3.4 3.1L3.4 -3.1"/>
<rect x="-1.6" y="-1.6" width="3.2" height="3.2" stroke="none"/>
</g>
<g transform="translate(696.5 270.7)" stroke="#1a1a1a" stroke-width="1.25" fill="#1a1a1a">
<path d="M0 -4.6V4.6M-3.4 -3.1L3.4 3.1M-3.4 3.1L3.4 -3.1"/>
<rect x="-1.6" y="-1.6" width="3.2" height="3.2" stroke="none"/>
</g>
<g transform="translate(777.3 291.2)" stroke="#1a1a1a" stroke-width="1.25" fill="#1a1a1a">
<path d="M0 -4.6V4.6M-3.4 -3.1L3.4 3.1M-3.4 3.1L3.4 -3.1"/>
<rect x="-1.6" y="-1.6" width="3.2" height="3.2" stroke="none"/>
</g>
<g transform="translate(853.2 332.6)" stroke="#1a1a1a" stroke-width="1.25" fill="#1a1a1a">
<path d="M0 -4.6V4.6M-3.4 -3.1L3.4 3.1M-3.4 3.1L3.4 -3.1"/>
<rect x="-1.6" y="-1.6" width="3.2" height="3.2" stroke="none"/>
</g>
<g transform="translate(906.7 384.9)" stroke="#1a1a1a" stroke-width="1.25" fill="#1a1a1a">
<path d="M0 -4.6V4.6M-3.4 -3.1L3.4 3.1M-3.4 3.1L3.4 -3.1"/>
<rect x="-1.6" y="-1.6" width="3.2" height="3.2" stroke="none"/>
</g>
<g transform="translate(952.7 477.8)" stroke="#4a4a4a" stroke-width="1.1" fill="none">
<path d="M-3.2 -3.4L3.2 3.4M-3.2 3.4L3.2 -3.4M0 -4V4"  stroke-opacity="0.85"/>
</g>
<g transform="translate(321.3 620.7)" stroke="#1a1a1a" stroke-width="1.25" fill="#1a1a1a">
<path d="M0 -4.6V4.6M-3.4 -3.1L3.4 3.1M-3.4 3.1L3.4 -3.1"/>
<rect x="-1.6" y="-1.6" width="3.2" height="3.2" stroke="none"/>
</g>
<g transform="translate(413.3 608.3)" stroke="#1a1a1a" stroke-width="1.25" fill="#1a1a1a">
<path d="M0 -4.6V4.6M-3.4 -3.1L3.4 3.1M-3.4 3.1L3.4 -3.1"/>
<rect x="-1.6" y="-1.6" width="3.2" height="3.2" stroke="none"/>
</g>
<g transform="translate(476.5 601.3)" stroke="#1a1a1a" stroke-width="1.25" fill="#1a1a1a">
<path d="M0 -4.6V4.6M-3.4 -3.1L3.4 3.1M-3.4 3.1L3.4 -3.1"/>
<rect x="-1.6" y="-1.6" width="3.2" height="3.2" stroke="none"/>
</g>
<g transform="translate(544.8 588.8)" stroke="#1a1a1a" stroke-width="1.25" fill="#1a1a1a">
<path d="M0 -4.6V4.6M-3.4 -3.1L3.4 3.1M-3.4 3.1L3.4 -3.1"/>
<rect x="-1.6" y="-1.6" width="3.2" height="3.2" stroke="none"/>
</g>
<g transform="translate(620 576)" stroke="#1a1a1a" stroke-width="1.25" fill="#1a1a1a">
<path d="M0 -4.6V4.6M-3.4 -3.1L3.4 3.1M-3.4 3.1L3.4 -3.1"/>
<rect x="-1.6" y="-1.6" width="3.2" height="3.2" stroke="none"/>
</g>
<g transform="translate(696.5 562.1)" stroke="#1a1a1a" stroke-width="1.25" fill="#1a1a1a">
<path d="M0 -4.6V4.6M-3.4 -3.1L3.4 3.1M-3.4 3.1L3.4 -3.1"/>
<rect x="-1.6" y="-1.6" width="3.2" height="3.2" stroke="none"/>
</g>
<g transform="translate(777.3 552.5)" stroke="#1a1a1a" stroke-width="1.25" fill="#1a1a1a">
<path d="M0 -4.6V4.6M-3.4 -3.1L3.4 3.1M-3.4 3.1L3.4 -3.1"/>
<rect x="-1.6" y="-1.6" width="3.2" height="3.2" stroke="none"/>
</g>
<g transform="translate(852.8 546)" stroke="#1a1a1a" stroke-width="1.25" fill="#1a1a1a">
<path d="M0 -4.6V4.6M-3.4 -3.1L3.4 3.1M-3.4 3.1L3.4 -3.1"/>
<rect x="-1.6" y="-1.6" width="3.2" height="3.2" stroke="none"/>
</g>
<g transform="translate(906.7 545.6)" stroke="#1a1a1a" stroke-width="1.25" fill="#1a1a1a">
<path d="M0 -4.6V4.6M-3.4 -3.1L3.4 3.1M-3.4 3.1L3.4 -3.1"/>
<rect x="-1.6" y="-1.6" width="3.2" height="3.2" stroke="none"/>
</g>
<g transform="translate(952.7 545.6)" stroke="#4a4a4a" stroke-width="1.1" fill="none">
<path d="M-3.2 -3.4L3.2 3.4M-3.2 3.4L3.2 -3.4M0 -4V4"  stroke-opacity="0.85"/>
</g>
<text transform="translate(307.65 337.53) scale(0.7 1)" text-anchor="middle" style="font-family:'Liberation Serif'" font-size="17.6" stroke="#1a1a1a" stroke-width="0.65">H</text>
<text transform="translate(291.65 574.83) scale(0.78 1)" text-anchor="middle" style="font-family:'Liberation Serif'" font-size="17.6" stroke="#1a1a1a" stroke-width="0.9">E</text>
<text transform="translate(301.15 574.83) scale(0.58 1)" text-anchor="middle" style="font-family:'Liberation Serif'" font-size="17.6" stroke="#1a1a1a" stroke-width="0.9">M</text>
<text transform="translate(291.65 650.33) scale(0.85 1)" text-anchor="middle" style="font-family:'Liberation Serif'" font-size="17.6" stroke="#1a1a1a" stroke-width="0.65">P</text>
<text transform="translate(301.15 650.33) scale(0.95 1)" text-anchor="middle" style="font-family:'Liberation Serif'" font-size="17.6" stroke="#1a1a1a" stroke-width="0.65">1</text>
<text transform="translate(970.55 479.83) scale(0.78 1)" text-anchor="middle" style="font-family:'Liberation Serif'" font-size="17.6" stroke="#1a1a1a" stroke-width="0.9">E</text>
<text transform="translate(980.05 479.83) scale(0.58 1)" text-anchor="middle" style="font-family:'Liberation Serif'" font-size="17.6" stroke="#1a1a1a" stroke-width="0.9">M</text>
<text transform="translate(970.55 524.33) scale(0.7 1)" text-anchor="middle" style="font-family:'Liberation Serif'" font-size="17.6" stroke="#1a1a1a" stroke-width="0.65">H</text>
<text transform="translate(970.55 552.83) scale(0.85 1)" text-anchor="middle" style="font-family:'Liberation Serif'" font-size="17.6" stroke="#1a1a1a" stroke-width="0.65">P</text>
<text transform="translate(980.05 552.83) scale(0.95 1)" text-anchor="middle" style="font-family:'Liberation Serif'" font-size="17.6" stroke="#1a1a1a" stroke-width="0.65">1</text>
</g>
</svg>
</body></html>
